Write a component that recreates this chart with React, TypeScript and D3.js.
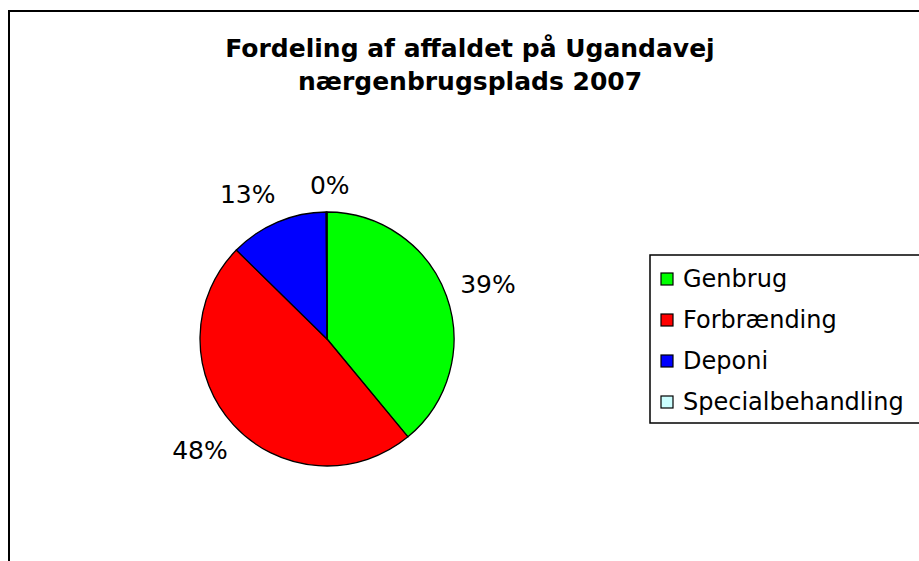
import React from "react";
import * as d3 from "d3";

const categories = ["Genbrug", "Forbrænding", "Deponi", "Specialbehandling"];
const values = [39.0, 48.35, 12.55, 0.1];
const colors = ["#00FF00", "#FF0000", "#0000FF", "#CCFFFF"];
const titleLines = ["Fordeling af affaldet på Ugandavej", "nærgenbrugsplads 2007"];

const W = 919;
const H = 561;
const FONT = "'DejaVu Sans', Verdana, sans-serif";

export default function App() {
  const cx = 327;
  const cy = 339;
  const r = 127;
  const total = d3.sum(values);
  const pie = d3.pie<number>().sort(null).value((d) => d)(values);
  const arc = d3.arc<d3.PieArcDatum<number>>().innerRadius(0).outerRadius(r);

  const labelSize = 25;
  const gap = 11;
  const lh = 30;
  const place = (a: number, w: number) => {
    const rc = r + gap + Math.abs(Math.sin(a)) * (w / 2) + Math.abs(Math.cos(a)) * (lh / 2);
    return { x: cx + Math.sin(a) * rc, y: cy - Math.cos(a) * rc };
  };
  const labels = pie.map((p, i) => {
    const pct = Math.round((values[i] / total) * 100) + "%";
    const a = (p.startAngle + p.endAngle) / 2 + (1.2 * Math.PI) / 180;
    const w = pct.length === 2 ? 45 : 57;
    return { pct, a, w, ...place(a, w) };
  });
  // simple de-overlap: push a label away from the next one if too close
  const minGap = 30;
  for (let i = 0; i < labels.length; i++) {
    for (let j = i + 1; j < labels.length; j++) {
      const A = labels[i];
      const B = labels[j];
      let guard = 0;
      const tooClose = () => {
        const hx = Math.abs(A.x - B.x) - (A.w + B.w) / 2;
        const vy = Math.abs(A.y - B.y) - lh;
        return hx < minGap && vy < 0;
      };
      while (tooClose() && guard < 100) {
        A.a -= (0.5 * Math.PI) / 180;
        const p = place(A.a, A.w);
        A.x = p.x;
        A.y = p.y;
        guard++;
      }
    }
  }

  const legendX = 650;
  const legendY = 255;
  const rowH = 41;
  const legendRows = d3.range(categories.length).map((i) => legendY + 24 + i * rowH);

  return (
    <svg
      width={W}
      height={H}
      style={{ position: "absolute", left: 0, top: 0, background: "#fff" }}
      fontFamily={FONT}
    >
      <rect x={0} y={0} width={W} height={H} fill="#fff" />
      <rect x={9} y={11} width={W + 20} height={H + 20} fill="none" stroke="#000" strokeWidth={2} />
      {titleLines.map((t, i) => (
        <text
          key={i}
          x={470}
          y={57 + i * 33}
          textAnchor="middle"
          fontSize={25}
          fontWeight="bold"
          fill="#000"
        >
          {t}
        </text>
      ))}
      <g transform={`translate(${cx},${cy})`}>
        {pie.map((p, i) => (
          <path key={i} d={arc(p) || ""} fill={colors[i]} stroke="#000" strokeWidth={1.3} strokeLinejoin="round" />
        ))}
      </g>
      {labels.map((l, i) => (
        <text
          key={i}
          x={l.x}
          y={l.y}
          textAnchor="middle"
          dominantBaseline="central"
          fontSize={labelSize}
          fill="#000"
        >
          {l.pct}
        </text>
      ))}
      <rect x={legendX} y={legendY} width={300} height={168} fill="#fff" stroke="#000" strokeWidth={1.5} />
      {categories.map((c, i) => (
        <g key={c}>
          <rect
            x={legendX + 11}
            y={legendRows[i] - 6}
            width={12}
            height={12}
            fill={colors[i]}
            stroke="#000"
            strokeWidth={1.2}
          />
          <text x={legendX + 33} y={legendRows[i]} dominantBaseline="central" fontSize={24} fill="#000">
            {c}
          </text>
        </g>
      ))}
    </svg>
  );
}
